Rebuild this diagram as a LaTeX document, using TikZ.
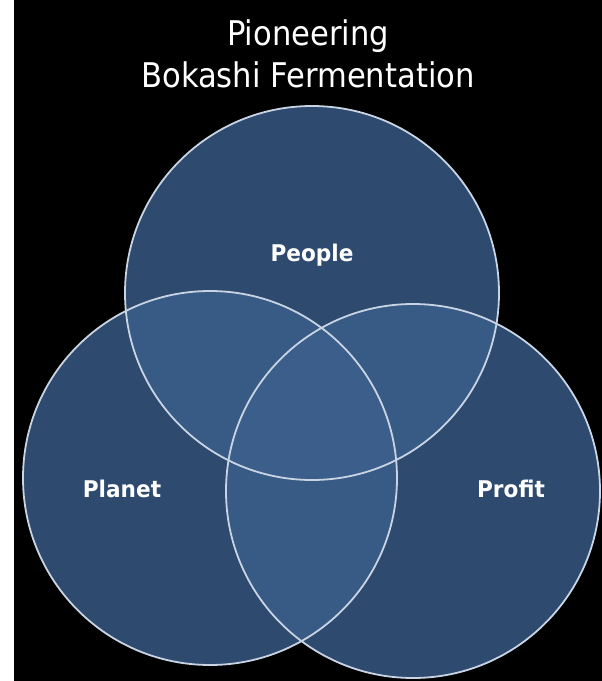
\documentclass[tikz,border=0pt]{standalone}
\usepackage{fontspec}
\newfontfamily\titlefont[FakeStretch=0.9]{DejaVu Sans}
\newfontfamily\labelfont[FakeStretch=0.94]{DejaVu Sans Bold}
\definecolor{bubble}{RGB}{60,96,141}
\definecolor{rim}{RGB}{200,212,228}
\tikzset{
  venn/.style={fill=bubble, fill opacity=0.78, draw=none},
  vennrim/.style={draw=rim, line width=1.8pt},
  title/.style={text=white, font=\titlefont\fontsize{34}{40}\selectfont, anchor=base},
  vlabel/.style={text=white, font=\labelfont\fontsize{23}{27}\selectfont, anchor=base},
}
\begin{document}
\begin{tikzpicture}[x=1pt,y=-1pt]
  \useasboundingbox (0,0) rectangle (602,681);
  \fill[white] (0,0) rectangle (602,681);
  \fill[black] (14,0) rectangle (602,681);
  % circles
  \coordinate (cpeople) at (312,293);
  \coordinate (cplanet) at (210,478);
  \coordinate (cprofit) at (413,491);
  \fill[venn] (cpeople) circle[radius=187];
  \fill[venn] (cplanet) circle[radius=187];
  \fill[venn] (cprofit) circle[radius=187];
  \draw[vennrim] (cpeople) circle[radius=187];
  \draw[vennrim] (cplanet) circle[radius=187];
  \draw[vennrim] (cprofit) circle[radius=187];
  % texts
  \node[title] (t1) at (308,45) {Pioneering};
  \node[title] (t2) at (308,87) {Bokashi Fermentation};
  \node[vlabel] (lpeople) at (312,261) {People};
  \node[vlabel] (lplanet) at (122,497) {Planet};
  \node[vlabel] (lprofit) at (511,497) {Profit};
\end{tikzpicture}
\end{document}
